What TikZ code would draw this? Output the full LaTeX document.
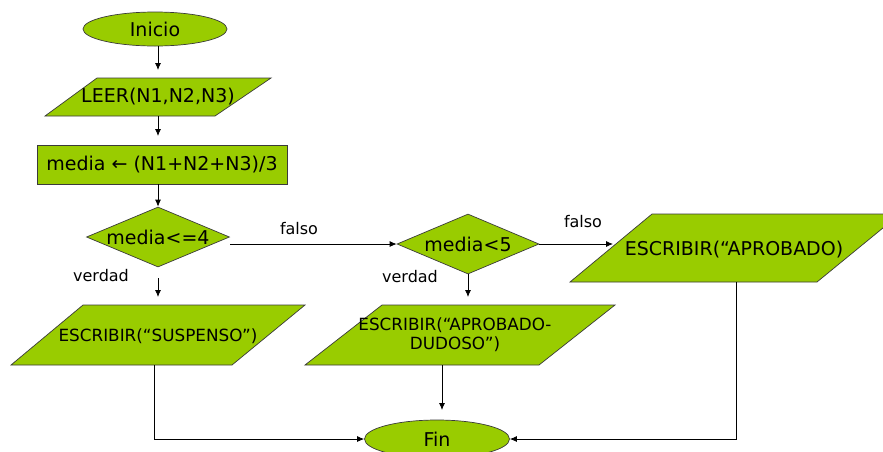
\documentclass[tikz,border=0pt]{standalone}
\usepackage{fontspec}
\setmainfont{DejaVu Sans}
\usetikzlibrary{shapes.geometric,arrows.meta}
\definecolor{boxgreen}{HTML}{99CC00}
\definecolor{edgegray}{HTML}{3A3A3A}
\begin{document}
\begin{tikzpicture}[x=1pt,y=-1pt,
  shapebox/.style={fill=boxgreen,draw=edgegray,line width=0.7pt},
  bigtext/.style={font=\fontsize{19}{22}\selectfont,text=black},
  smalltext/.style={font=\fontsize{16.8}{19}\selectfont,text=black},
  lbl/.style={font=\fontsize{16}{18}\selectfont,text=black,inner sep=0pt},
  arr/.style={-{Latex[length=7pt,width=6pt]},line width=0.8pt,black},
  plain/.style={line width=0.8pt,black}]
\useasboundingbox (0,0) rectangle (883,451);

% Inicio
\node[ellipse,shapebox,bigtext,minimum width=144pt,minimum height=34pt,inner sep=0pt] (ini) at (155,29) {Inicio};

% LEER
\filldraw[shapebox] (97,78) -- (271,78) -- (215,116) -- (45,116) -- cycle;
\node[bigtext,inner sep=0pt] (leer) at (158,97) {LEER(N1,N2,N3)};
\coordinate (leerN) at (158,70);
\coordinate (leerS) at (158,116);

% media <- ...
\node[rectangle,shapebox,bigtext,minimum width=250pt,minimum height=39pt,inner sep=0pt] (calc) at (162,164.5) {media ← (N1+N2+N3)/3};
\coordinate (calcN) at (158,136);

% decision 1
\node[diamond,shapebox,bigtext,aspect=2.4,inner sep=0pt,minimum width=143pt,minimum height=60pt] (d1) at (158,237) {media<=4};
\node[lbl] (verd1) at (101,276) {verdad};
\coordinate (v1a) at (158,278);
\coordinate (v1b) at (158,297);

% SUSPENSO
\filldraw[shapebox] (83,305) -- (305,305) -- (232,365) -- (11,365) -- cycle;
\node[smalltext,inner sep=0pt] (susp) at (158,336) {ESCRIBIR(“SUSPENSO”)};
\coordinate (suspS) at (154,365);

% decision 2
\node[lbl] (fal1) at (299,229) {falso};
\node[diamond,shapebox,bigtext,aspect=2.4,inner sep=0pt,minimum width=142pt,minimum height=60pt] (d2) at (468,244) {media<5};
\coordinate (d1out) at (230,244);
\node[lbl] (verd2) at (410,277) {verdad};
\coordinate (v2b) at (468,297);

% DUDOSO
\filldraw[shapebox] (382,305) -- (615,305) -- (539,365) -- (305,365) -- cycle;
\node[smalltext,inner sep=0pt,align=center] (dud) at (455,335) {ESCRIBIR(“APROBADO-\\DUDOSO”)};
\coordinate (dudS) at (442,365);
\coordinate (finN) at (442,410);

% APROBADO
\node[lbl] (fal2) at (583,222) {falso};
\filldraw[shapebox] (652,214) -- (900,214) -- (817,282) -- (570,282) -- cycle;
\node[bigtext,inner sep=0pt] (apr) at (734,250) {ESCRIBIR(“APROBADO)};
\coordinate (aprW) at (613,244);
\coordinate (aprS) at (736,282);

% Fin
\node[ellipse,shapebox,bigtext,minimum width=145pt,minimum height=38pt,inner sep=0pt] (fin) at (437,439) {Fin};

% connectors
\draw[arr] (ini.south -| leerN) -- (leerN);
\draw[arr] (leerS) -- (calcN);
\draw[arr] (calc.south -| d1.north) -- (d1.north);
\draw[arr] (v1a) -- (v1b);
\draw[arr] (d1out) -- (d2.west);
\draw[arr] (d2.south) -- (v2b);
\draw[arr] (d2.east) -- (aprW);
\draw[arr] (dudS) -- (finN);
\draw[arr] (suspS) |- (fin.west);
\draw[arr] (aprS) |- (fin.east);
\end{tikzpicture}
\end{document}
